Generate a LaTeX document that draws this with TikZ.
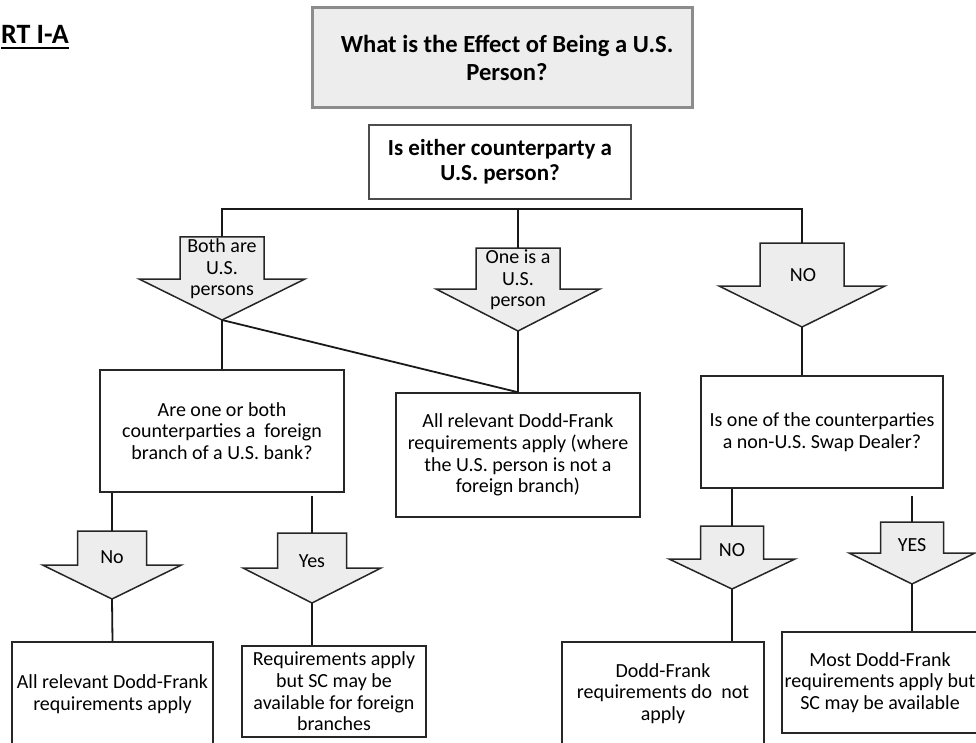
\documentclass[tikz,border=0pt]{standalone}
\usepackage{fontspec}
\setmainfont{Carlito}
\definecolor{shade}{HTML}{EDEDED}
\definecolor{edgegray}{HTML}{8C8C8C}
\definecolor{ink}{HTML}{262626}
\newcommand\chartbody{\fontsize{20}{21.6}\selectfont}
% down-pointing block arrow: name, centre x, top y, shoulder y, tip y, shaft half width, head half width
\newcommand\flowarrow[7]{%
  \filldraw[arrowshape] ({#2-#6},#3) -- ({#2+#6},#3) -- ({#2+#6},#4) -- ({#2+#7},#4)
    -- (#2,#5) -- ({#2-#7},#4) -- ({#2-#6},#4) -- cycle;
  \coordinate (#1-top) at (#2,#3);
  \coordinate (#1-tip) at (#2,#5);
}
\begin{document}
\begin{tikzpicture}[x=1pt,y=-1pt,
  conn/.style={draw=black!90, line width=1.8pt},
  arrowshape/.style={fill=shade, draw=ink, line width=1.5pt, line join=miter},
  arrowlabel/.style={align=center, inner sep=0pt, font=\chartbody},
  plainbox/.style={draw=ink, line width=1.5pt, fill=white, inner sep=0pt, align=center, font=\chartbody},
  headbox/.style={draw=edgegray, line width=3pt, fill=shade, inner sep=0pt, align=center,
    font=\fontsize{24.6}{28}\selectfont\bfseries},
  askbox/.style={draw=black!70, line width=2.5pt, fill=white, inner sep=0pt, align=center,
    font=\fontsize{23}{25}\selectfont\bfseries}]
\useasboundingbox (0,0) rectangle (976,743);
\clip (0,0) rectangle (976,743);

% chart title
\node[anchor=base east, inner sep=0pt, font=\fontsize{28}{30}\selectfont\bfseries] (title) at (69,44) {RT I-A};
\draw[line width=2pt] ([yshift=-4.5pt]title.base west) -- ([yshift=-4.5pt]title.base east);

% heading and first question
\node[headbox, minimum width=380, minimum height=100] (head) at (502,58)
  {\hspace*{10pt}What is the Effect of Being a U.S.\\\hspace*{10pt}Person?};
\node[askbox, minimum width=262, minimum height=74] (q1) at (500,162)
  {Is either counterparty a\\U.S. person?};

% first-level answers
\flowarrow{a1}{222}{237}{279}{320}{42}{83}
\flowarrow{a2}{518}{248}{289}{331}{42}{82}
\flowarrow{a3}{802}{243}{286}{327}{42}{83}
\node[arrowlabel] (l1) at (222,269) {Both are\\U.S.\\persons};
\node[arrowlabel] (l2) at (518,280) {One is a\\U.S.\\person};
\node[arrowlabel] (l3) at (803,275) {NO};

% second-level boxes
\node[plainbox, minimum width=244, minimum height=122] (q2) at (222,431)
  {Are one or both\\counterparties a\ \ foreign\\branch of a U.S. bank?};
\node[plainbox, minimum width=244, minimum height=124] (r1) at (518,455)
  {All relevant Dodd-Frank\\requirements apply (where\\the U.S. person is not a\\foreign branch)};
\node[plainbox, minimum width=242, minimum height=112] (q3) at (822,432)
  {Is one of the counterparties\\a non-U.S. Swap Dealer?};

% second-level answers
\flowarrow{a4}{112}{531}{565}{599}{34.5}{69.5}
\flowarrow{a5}{312}{533}{568}{603}{34.5}{69}
\flowarrow{a6}{732}{526}{559}{589}{31.5}{63}
\flowarrow{a7}{912}{522}{553}{584}{31.5}{63}
\node[arrowlabel] (l4) at (112,557) {No};
\node[arrowlabel] (l5) at (312,561) {Yes};
\node[arrowlabel] (l6) at (732,550) {NO};
\node[arrowlabel] (l7) at (912,545) {YES};

% outcomes
\node[plainbox, minimum width=201, minimum height=104] (b1) at (112.5,694)
  {All relevant Dodd-Frank\\requirements apply};
\node[plainbox, minimum width=184, minimum height=91] (b2) at (334,691.5)
  {Requirements apply\\but SC may be\\available for foreign\\branches};
\node[plainbox, minimum width=202, minimum height=103] (b3) at (663,693.5)
  {Dodd-Frank\\requirements do\ \ not\\apply};
\node[plainbox, minimum width=196, minimum height=101] (b4) at (880,682.5)
  {Most Dodd-Frank\\requirements apply but\\SC may be available};

% connectors
\coordinate (bus) at (0,209);
\draw[conn] (a1-top) -- (a1-top |- bus) -- (a3-top |- bus) -- (a3-top);
\draw[conn] (a2-top |- bus) -- (a2-top);
\draw[conn] (a1-tip) -- (q2.north);
\draw[conn] (a1-tip) -- (r1.north);
\draw[conn] (a2-tip) -- (r1.north);
\draw[conn] (a3-tip) -- (a3-tip |- q3.north);
\draw[conn] (a4-top |- q2.south) -- (a4-top);
\draw[conn, shorten <=3pt] (a5-top |- q2.south) -- (a5-top);
\draw[conn] (a4-tip) -- (b1.north);
\draw[conn] (a5-tip) -- (a5-tip |- b2.north);
\draw[conn] (a6-top |- q3.south) -- (a6-top);
\draw[conn, shorten <=7pt] (a7-top |- q3.south) -- (a7-top);
\draw[conn] (a6-tip) -- (a6-tip |- b3.north);
\draw[conn] (a7-tip) -- (a7-tip |- b4.north);
\end{tikzpicture}
\end{document}
